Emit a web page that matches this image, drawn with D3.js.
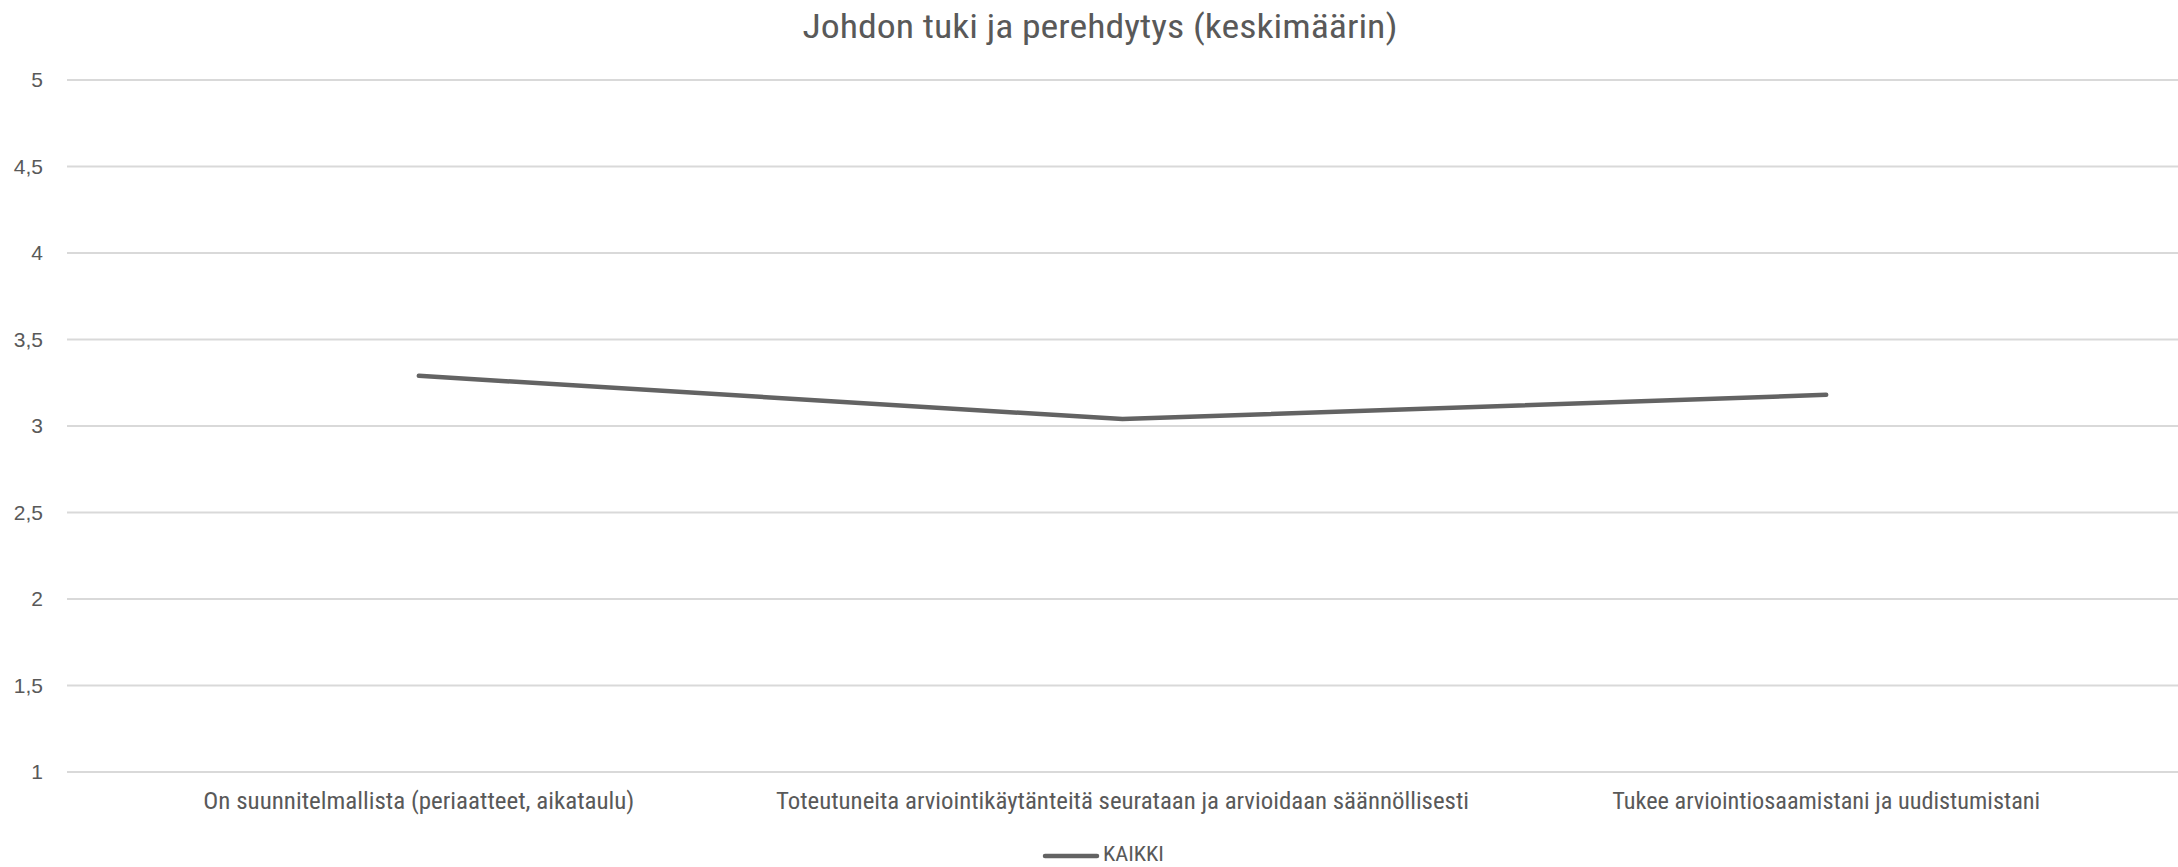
<!DOCTYPE html>
<html>
<head>
<meta charset="utf-8">
<script src="https://cdn.jsdelivr.net/npm/d3@7"></script>
<style>
  html, body { margin: 0; padding: 0; background: #fff; }
  svg { display: block; }
  text { fill: #595959; font-family: "Liberation Sans Narrow", "Roboto Condensed", "DejaVu Sans Condensed", "Liberation Sans", sans-serif; }
</style>
</head>
<body>
<script>
const title = "Johdon tuki ja perehdytys (keskimäärin)";
const categories = [
  "On suunnitelmallista (periaatteet, aikataulu)",
  "Toteutuneita arviointikäytänteitä seurataan ja arvioidaan säännöllisesti",
  "Tukee arviointiosaamistani ja uudistumistani"
];
const seriesName = "KAIKKI";
const values = [3.29, 3.04, 3.18];
const yTicks = [1, 1.5, 2, 2.5, 3, 3.5, 4, 4.5, 5];
const yTickLabels = ["1", "1,5", "2", "2,5", "3", "3,5", "4", "4,5", "5"];
const labelWidths = [431, 693, 428];

const W = 2178, H = 867;
const margin = { left: 67, right: 0, top: 80, bottom: H - 772 };

const svg = d3.select("body").append("svg").attr("width", W).attr("height", H);

const x = d3.scaleBand().domain(categories).range([margin.left, W - margin.right]).padding(0);
const y = d3.scaleLinear().domain([1, 5]).range([H - margin.bottom, margin.top]);

// gridlines
svg.append("g").selectAll("line").data(yTicks).join("line")
  .attr("x1", margin.left).attr("x2", W - margin.right)
  .attr("y1", d => y(d)).attr("y2", d => y(d))
  .attr("stroke", "#d9d9d9").attr("stroke-width", 2);

// y axis labels
const yAxis = d3.axisLeft(y).tickValues(yTicks).tickSize(0).tickPadding(0)
  .tickFormat((d, i) => yTickLabels[i]);
const gy = svg.append("g").attr("transform", `translate(43,0)`).call(yAxis);
gy.select(".domain").remove();
gy.selectAll("text").attr("font-size", 21).style("font-family", '"Liberation Sans", sans-serif').attr("fill", "#595959");

// x axis labels
const xAxis = d3.axisBottom(x).tickSize(0).tickPadding(0);
const gx = svg.append("g").attr("transform", `translate(0,${y(1)})`).call(xAxis);
gx.select(".domain").remove();
gx.selectAll("text").attr("font-size", 23).attr("dy", null).attr("y", 37)
  .attr("fill", "#595959")
  .attr("textLength", (d, i) => labelWidths[i]).attr("lengthAdjust", "spacingAndGlyphs");

// line
const line = d3.line().x((d, i) => x(categories[i]) + x.bandwidth() / 2).y(d => y(d));
svg.append("path").datum(values)
  .attr("d", line).attr("fill", "none")
  .attr("stroke", "#636363").attr("stroke-width", 4.5)
  .attr("stroke-linecap", "round").attr("stroke-linejoin", "round");

// title
svg.append("text").attr("x", 1100).attr("y", 38).attr("text-anchor", "middle")
  .attr("font-size", 34).attr("fill", "#595959")
  .attr("textLength", 595).attr("lengthAdjust", "spacingAndGlyphs")
  .text(title);

// legend
const lg = svg.append("g");
lg.append("line").attr("x1", 1045).attr("x2", 1097).attr("y1", 856).attr("y2", 856)
  .attr("stroke", "#636363").attr("stroke-width", 4.5).attr("stroke-linecap", "round");
lg.append("text").attr("x", 1103).attr("y", 861).attr("font-size", 20)
  .attr("fill", "#595959").attr("textLength", 61).attr("lengthAdjust", "spacingAndGlyphs")
  .text(seriesName);
</script>
</body>
</html>
